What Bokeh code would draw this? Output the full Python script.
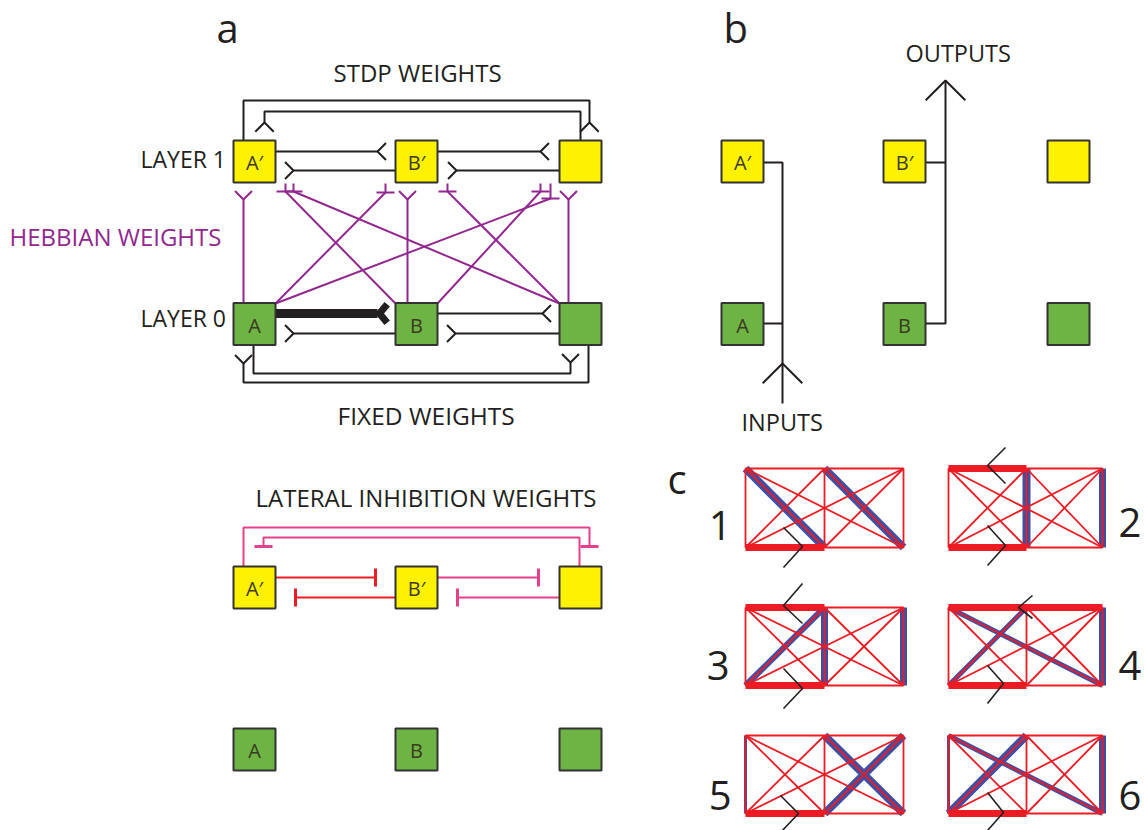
import math
from bokeh.plotting import figure
from bokeh.models import Range1d, ColumnDataSource
from bokeh.core.properties import value
from bokeh.embed import file_html
from bokeh.resources import INLINE

FONT = "Open Sans"
INK = "#231f20"
YELLOW = "#fff200"
GREEN = "#6db444"
PURPLE = "#92278f"
RED = "#ed1c24"
PINK = "#e6408a"
BLUE = "#3f4fa3"

# ---------------- data ----------------
col_a = [254, 416, 580]          # panel a node columns (x)
col_b = [742, 904, 1068]         # panel b node columns (x)
row_l1, row_l0 = 161, 323.5      # panel a / b rows
row_lat1, row_lat0 = 587, 749    # lateral-inhibition rows
box_size = 42
labels_top = ["A\u2032", "B\u2032", ""]
labels_bot = ["A", "B", ""]

# Hebbian diagonals: (start on layer 0, end near layer 1)
heb_start = [(395, 303), (559, 303), (275, 303), (559, 303), (437, 303), (275, 303)]
heb_end = [(285, 191), (293, 191), (385, 192), (447, 191), (540, 191), (550, 198)]
heb_vert_x = [243, 407, 568]

# panel c grids
c_cols = [[745, 824, 903], [948, 1026, 1102]]
c_rows = [(468, 547), (607, 685), (735, 813)]
c_names = ["1", "2", "3", "4", "5", "6"]
c_name_pos = [(731, 525, "right"), (1118, 522, "left"), (729, 665, "right"),
              (1118, 665, "left"), (731, 795, "right"), (1118, 795, "left")]
# highlighted connections per sub-panel: (node, node, width)
c_blue = [
    [("TL", "BM", 8), ("TM", "BR", 8)],
    [("TM", "BM", 8), ("TR", "BR", 7)],
    [("BL", "TM", 6), ("TM", "BM", 7), ("TR", "BR", 7)],
    [("TL", "BR", 5), ("BL", "TM", 5), ("TR", "BR", 7)],
    [("TM", "BR", 8), ("BM", "TR", 8), ("TL", "BL", 3)],
    [("BL", "TM", 8), ("TL", "BR", 5), ("TR", "BR", 7), ("TL", "BL", 3)],
]
c_red = [
    [("BL", "BM")],
    [("TL", "TM"), ("BL", "BM")],
    [("TL", "TM"), ("BL", "BM")],
    [("TL", "TR"), ("BL", "BM")],
    [("BL", "BM")],
    [("BL", "BM")],
]
# black input/output chevrons: (anchor node, offsets)
c_marks = [
    [("BL", [(38, -20), (57, -1), (38, 20)])],
    [("TL", [(57, -21), (39, -3), (57, 15)]), ("BL", [(39, -22), (57, -2), (39, 18)])],
    [("TL", [(57, -24), (38, -2), (57, 16)]), ("BL", [(38, -17), (57, 3), (38, 23)])],
    [("TL", [(84, -12), (70, 0), (84, 11)]), ("BL", [(39, -20), (55, -2), (39, 18)])],
    [("BL", [(35, -18), (53, 0), (35, 19)])],
    [("BL", [(39, -21), (55, -1), (39, 17)])],
]

texts = [
    ("a", 216, 27, 40, INK, "left"),
    ("b", 723, 27, 40, INK, "left"),
    ("c", 667, 478, 40, INK, "left"),
    ("STDP WEIGHTS", 333, 72, 24, INK, "left"),
    ("LAYER 1", 140, 158, 23, INK, "left"),
    ("HEBBIAN WEIGHTS", 9, 236, 24, PURPLE, "left"),
    ("LAYER 0", 140, 317, 23, INK, "left"),
    ("FIXED  WEIGHTS", 337, 415, 24.5, INK, "left"),
    ("LATERAL INHIBITION WEIGHTS", 255, 497, 24, INK, "left"),
    ("OUTPUTS", 905, 52, 23.5, INK, "left"),
    ("INPUTS", 741, 421, 23.5, INK, "left"),
]

# ---------------- geometry helpers ----------------
segs = {"xs": [], "ys": [], "color": [], "width": []}


def line(pts, color=INK, width=2.0):
    segs["xs"].append([p[0] for p in pts])
    segs["ys"].append([p[1] for p in pts])
    segs["color"].append(color)
    segs["width"].append(width)


def fork(ax, ay, dx, dy, L=12, ang=45, color=INK, width=2.0):
    a = math.radians(ang)
    pts = []
    for s in (1, -1):
        c, sn = math.cos(s * a), math.sin(s * a)
        pts.append((ax + L * (dx * c - dy * sn), ay + L * (dx * sn + dy * c)))
    line([pts[0], (ax, ay), pts[1]], color, width)


def tbar(x, y, half=9, vertical=True, color=RED, width=3):
    if vertical:
        line([(x, y - half), (x, y + half)], color, width)
    else:
        line([(x - half, y), (x + half, y)], color, width)


h = box_size / 2
t1, b1 = row_l1 - h, row_l1 + h
t0, b0 = row_l0 - h, row_l0 + h
L1, R1 = [c - h for c in col_a], [c + h for c in col_a]

# ---------------- panel a: STDP weights ----------------
line([(243, t1), (243, 100), (589, 100), (589, 122)])
fork(589, 122, 0, 1, 13)
line([(col_a[2], t1), (col_a[2], 111), (264, 111), (264, 122)])
fork(264, 122, 0, 1, 13)
line([(R1[0], 151), (377, 151)]); fork(377, 151, 1, 0, 12)
line([(R1[1], 151), (540, 151)]); fork(540, 151, 1, 0, 12)
line([(L1[1], 170), (293, 170)]); fork(293, 170, -1, 0, 12)
line([(L1[2], 170), (456, 170)]); fork(456, 170, -1, 0, 12)

# ---------------- panel a: Hebbian ----------------
for x in heb_vert_x:
    line([(x, t0), (x, 199)], PURPLE, 2)
    fork(x, 199, 0, -1, 12, 45, PURPLE, 2)
for (sx, sy), (ex, ey) in zip(heb_start, heb_end):
    line([(sx, sy), (ex, ey)], PURPLE, 2)
    line([(ex - 9, ey), (ex + 9, ey)], PURPLE, 2)
    line([(ex, ey), (ex, b1 + 1)], PURPLE, 2)

# ---------------- panel a: fixed weights ----------------
line([(R1[0], 313), (377, 313)], INK, 9)
fork(379, 313, 1, 0, 12, 50, INK, 7)
line([(R1[1], 313), (542, 313)]); fork(542, 313, 1, 0, 12)
line([(L1[1], 333), (293, 333)]); fork(293, 333, -1, 0, 12)
line([(L1[2], 333), (455, 333)]); fork(455, 333, -1, 0, 12)
line([(588, b0), (588, 382), (243, 382), (243, 363)]); fork(243, 363, 0, -1, 12)
line([(253, b0), (253, 373), (570, 373), (570, 362)]); fork(570, 362, 0, -1, 12)

# ---------------- panel a: lateral inhibition ----------------
lt = row_lat1 - h
line([(243, lt), (243, 527), (589, 527), (589, 546)], PINK, 2)
tbar(589, 546, 9, False, PINK, 3)
line([(579, lt), (579, 537), (263, 537), (263, 546)], PINK, 2)
tbar(263, 546, 9, False, PINK, 3)
line([(R1[0], 577), (375, 577)], RED, 2); tbar(375, 577, 9, True, RED, 3)
line([(L1[1], 597), (295, 597)], RED, 2); tbar(295, 597, 9, True, RED, 3)
line([(R1[1], 577), (538, 577)], PINK, 2); tbar(538, 577, 9, True, PINK, 3)
line([(L1[2], 597), (457, 597)], PINK, 2); tbar(457, 597, 9, True, PINK, 3)

# ---------------- panel b ----------------
line([(col_b[0] + h, 162), (782, 162), (782, 403)])
line([(col_b[0] + h, 323), (782, 323)])
fork(782, 363, 0, 1, 28)
line([(col_b[1] + h, 162), (945, 162)])
line([(col_b[1] + h, 323), (945, 323), (945, 80)])
fork(945, 80, 0, 1, 28)

# ---------------- panel c ----------------
thin_edges = [("TL", "TR"), ("BL", "BR"), ("TL", "BL"), ("TM", "BM"), ("TR", "BR"),
              ("TL", "BM"), ("TL", "BR"), ("TM", "BL"), ("TM", "BR"), ("TR", "BL"), ("TR", "BM")]
for i in range(6):
    xs = c_cols[i % 2]
    top, bot = c_rows[i // 2]
    nodes = {"TL": (xs[0], top), "TM": (xs[1], top), "TR": (xs[2], top),
             "BL": (xs[0], bot), "BM": (xs[1], bot), "BR": (xs[2], bot)}
    for a, b, w in c_blue[i]:
        line([nodes[a], nodes[b]], BLUE, w)
    for a, b in c_red[i]:
        line([nodes[a], nodes[b]], RED, 7)
    for a, b in thin_edges:
        line([nodes[a], nodes[b]], RED, 1.8)
    for anchor, offs in c_marks[i]:
        ax, ay = nodes[anchor]
        line([(ax + dx, ay + dy) for dx, dy in offs], INK, 1.6)

# ---------------- figure ----------------
p = figure(width=1144, height=830, x_range=Range1d(0, 1144), y_range=Range1d(830, 0),
           output_backend="svg", toolbar_location=None, min_border=0,
           x_axis_location=None, y_axis_location=None)
p.grid.visible = False
p.outline_line_color = None
p.background_fill_color = "white"
p.border_fill_color = "white"

p.multi_line(xs="xs", ys="ys", line_color="color", line_width="width",
             source=ColumnDataSource(segs))

# boxes
bx, by, bc, bl = [], [], [], []
for cols, rows in ((col_a, (row_l1, row_l0)), (col_b, (row_l1, row_l0)), (col_a, (row_lat1, row_lat0))):
    for j, x in enumerate(cols):
        bx += [x, x]
        by += [rows[0], rows[1]]
        bc += [YELLOW, GREEN]
        bl += [labels_top[j], labels_bot[j]]
p.rect(x=bx, y=by, width=box_size, height=box_size, fill_color=bc,
       line_color="#333333", line_width=2)
p.text(x=bx, y=[y + 1 for y in by], text=bl, text_font=value(FONT), text_font_size="20px",
       text_align="center", text_baseline="middle", text_color="#3a3a20")

for s, x, y, size, col, al in texts:
    p.text(x=[x], y=[y], text=[s], text_font=value(FONT), text_font_size=f"{size}px",
           text_align=al, text_baseline="middle", text_color=col)

for s, (x, y, al) in zip(c_names, c_name_pos):
    p.text(x=[x], y=[y], text=[s], text_font=value(FONT), text_font_size="40px",
           text_align=al, text_baseline="middle", text_color=INK)

open("out.html", "w").write(file_html(p, INLINE))
